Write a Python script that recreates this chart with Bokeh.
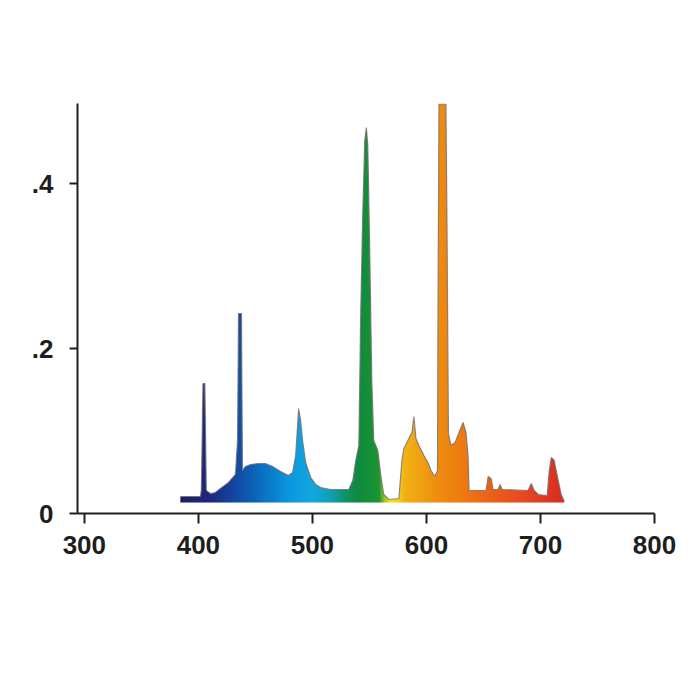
import numpy as np
from bokeh.plotting import figure
from bokeh.models import FixedTicker, Range1d
from bokeh.embed import file_html
from bokeh.resources import INLINE

# Spectral power distribution (wavelength in nm, relative power)
wavelength_nm = [384.2, 401.8, 402.6, 404.0, 405.7, 407.0, 410.5, 414.9, 419.3, 426.4,
                 432.5, 434.3, 435.2, 437.8, 438.7, 441.3, 445.7, 452.7, 458.9, 465.1,
                 472.1, 479.1, 482.6, 485.3, 487.0, 487.9, 489.7, 491.4, 494.1, 498.5,
                 502.9, 507.3, 516.0, 531.9, 535.4, 538.0, 540.7, 542.4, 544.2, 545.9,
                 547.3, 548.6, 550.3, 552.1, 553.8, 557.4, 560.0, 562.6, 567.0, 575.8,
                 578.5, 580.2, 583.7, 587.3, 589.0, 590.8, 593.4, 597.8, 601.3, 604.0,
                 607.5, 609.7, 610.1, 611.0, 617.1, 618.0, 619.3, 621.5, 625.1, 628.6,
                 632.1, 634.7, 636.5, 637.4, 652.3, 654.1, 656.7, 658.5, 662.9, 664.6,
                 666.4, 689.2, 691.9, 694.5, 698.0, 705.9, 707.7, 709.5, 712.1, 713.8,
                 715.6, 718.2, 720.9]
irradiance = [0.0206, 0.0206, 0.0291, 0.1576, 0.1576, 0.0279, 0.0242, 0.0255, 0.0303, 0.0376,
              0.0473, 0.0885, 0.2424, 0.2424, 0.0521, 0.0570, 0.0594, 0.0606, 0.0606, 0.0570,
              0.0509, 0.0461, 0.0497, 0.0703, 0.1067, 0.1273, 0.1127, 0.0885, 0.0618, 0.0436,
              0.0352, 0.0315, 0.0291, 0.0291, 0.0400, 0.0642, 0.0824, 0.2461, 0.3673, 0.4521,
              0.4679, 0.4461, 0.3188, 0.1612, 0.0885, 0.0764, 0.0461, 0.0230, 0.0170, 0.0182,
              0.0642, 0.0788, 0.0885, 0.0982, 0.1176, 0.0909, 0.0824, 0.0703, 0.0618, 0.0521,
              0.0448, 0.0521, 0.2376, 0.4964, 0.4964, 0.3552, 0.0970, 0.0824, 0.0861, 0.0982,
              0.1103, 0.0982, 0.0703, 0.0279, 0.0279, 0.0448, 0.0424, 0.0291, 0.0291, 0.0352,
              0.0291, 0.0279, 0.0364, 0.0279, 0.0230, 0.0218, 0.0521, 0.0679, 0.0642, 0.0521,
              0.0400, 0.0230, 0.0145]
baseline = 0.0133

x_ticks = [300, 400, 500, 600, 700, 800]
y_ticks = [0, 0.2, 0.4]
y_tick_labels = ["0", ".2", ".4"]

# colour band keyed to wavelength (style)
color_stop_nm = [384, 410, 425, 440, 460, 480, 500, 515, 528, 540, 558, 563, 568, 574,
                 580, 592, 610, 630, 650, 680, 700, 721]
color_stop_hex = ["#1b1f6a", "#1c2a80", "#173d98", "#0f55ae", "#0a78c8", "#0c98de",
                  "#12a8e2", "#11a0b8", "#10946a", "#0f8a40", "#1a9632", "#9ccc22",
                  "#eee61a", "#f4d21a", "#f2b416", "#f0a412", "#ee8c10", "#ee7c10",
                  "#ec6618", "#e84c20", "#e23c22", "#d82c20"]

font = "Liberation Sans"
Y_TOP = 0.497

p = figure(width=692, height=600, x_range=Range1d(294, 800), y_range=Range1d(0, Y_TOP),
           output_backend="svg", toolbar_location=None,
           min_border_left=77, min_border_top=103, min_border_right=38, min_border_bottom=87)
p.outline_line_color = None
p.xgrid.visible = False
p.ygrid.visible = False
p.background_fill_color = "white"

# gradient band, reaching up to the tallest value of the curve
x0, x1 = wavelength_nm[0], wavelength_nm[-1]
N = 1400
xs = np.linspace(x0, x1, N)
rgb = np.array([[int(h[i:i + 2], 16) for i in (1, 3, 5)] for h in color_stop_hex], dtype=float)
img = np.empty((1, N), dtype=np.uint32)
view = img.view(dtype=np.uint8).reshape((1, N, 4))
for c in range(3):
    view[0, :, c] = np.interp(xs, color_stop_nm, rgb[:, c]).astype(np.uint8)
view[0, :, 3] = 255
p.image_rgba(image=[img], x=x0, y=baseline, dw=x1 - x0, dh=max(irradiance) - baseline)

# white mask above the curve, reaching past the band on every side
pad = 4
p.patch(x=[x0 - pad] + wavelength_nm + [x1 + pad, x1 + pad, x0 - pad],
        y=[irradiance[0]] + irradiance + [irradiance[-1], 0.8, 0.8],
        fill_color="white", line_color="white", line_width=0.5)
# outline of the curve
p.line(x=wavelength_nm, y=irradiance, line_color="#3a3030", line_alpha=0.55, line_width=1.2)

for ax in (p.xaxis[0], p.yaxis[0]):
    ax.axis_line_width = 2
    ax.axis_line_color = "#1e1e1e"
    ax.major_tick_line_width = 2
    ax.major_tick_line_color = "#1e1e1e"
    ax.major_tick_in = 0
    ax.minor_tick_line_color = None
    ax.major_label_text_font = font
    ax.major_label_text_font_style = "bold"
    ax.major_label_text_font_size = "26px"
    ax.major_label_text_color = "#1e1e1e"

p.xaxis.ticker = FixedTicker(ticks=x_ticks)
p.xaxis.major_tick_out = 10
p.xaxis.major_label_standoff = 12

p.yaxis.ticker = FixedTicker(ticks=y_ticks)
p.yaxis.major_label_overrides = {t: l for t, l in zip(y_ticks, y_tick_labels)}
p.yaxis.major_tick_out = 8
p.yaxis.major_label_standoff = 16

open("out.html", "w").write(file_html(p, INLINE))
